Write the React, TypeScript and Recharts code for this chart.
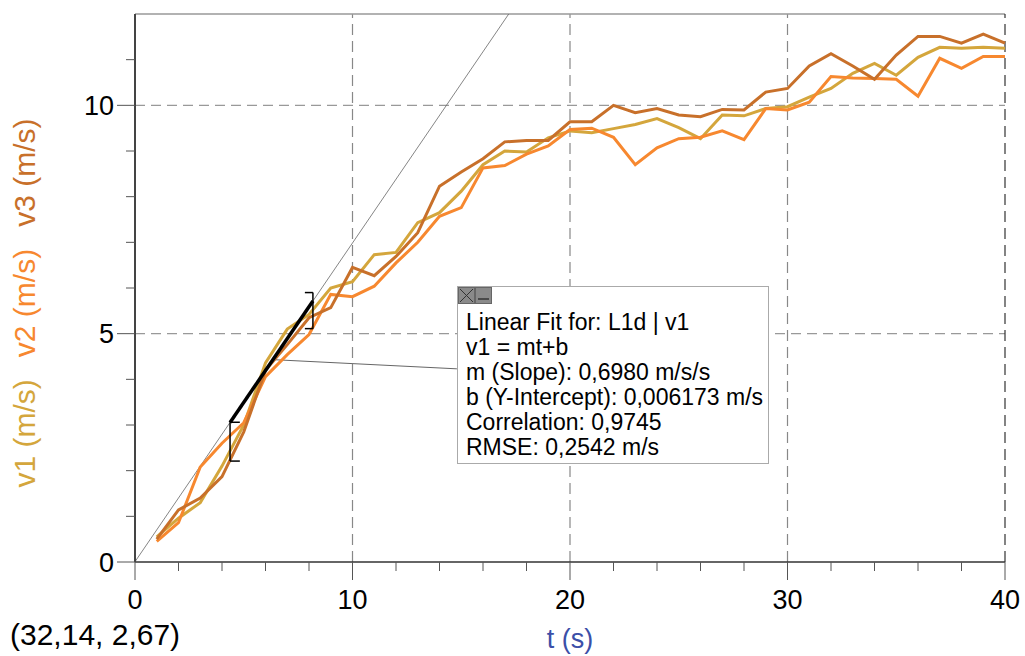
import { LineChart, Line, XAxis, YAxis, ReferenceLine, Label } from 'recharts';

const FONT = '"Liberation Sans", Arial, sans-serif';

// time in s
const times = [1, 2, 3, 4, 5, 6, 7, 8, 9, 10, 11, 12, 13, 14, 15, 16, 17, 18, 19, 20,
  21, 22, 23, 24, 25, 26, 27, 28, 29, 30, 31, 32, 33, 34, 35, 36, 37, 38, 39, 40];

const v1 = [0.55, 0.96, 1.3, 2.1, 3.0, 4.36, 5.1, 5.42, 6.0, 6.14, 6.73, 6.78, 7.43, 7.65, 8.12, 8.7, 9.0, 8.98, 9.29, 9.44,
  9.4, 9.49, 9.58, 9.71, 9.51, 9.27, 9.79, 9.77, 9.93, 9.97, 10.18, 10.37, 10.7, 10.92, 10.66, 11.05, 11.27, 11.25, 11.27, 11.25];
const v2 = [0.45, 0.86, 2.08, 2.6, 3.05, 4.06, 4.54, 4.98, 5.86, 5.81, 6.04, 6.55, 7.0, 7.57, 7.76, 8.63, 8.68, 8.93, 9.11, 9.47,
  9.5, 9.3, 8.7, 9.07, 9.27, 9.3, 9.44, 9.25, 9.93, 9.9, 10.07, 10.63, 10.6, 10.59, 10.57, 10.2, 11.03, 10.81, 11.07, 11.07];
const v3 = [0.5, 1.14, 1.4, 1.87, 2.85, 4.2, 4.76, 5.35, 5.57, 6.45, 6.27, 6.69, 7.21, 8.23, 8.54, 8.83, 9.2, 9.23, 9.23, 9.64,
  9.64, 10.0, 9.84, 9.93, 9.79, 9.75, 9.91, 9.9, 10.29, 10.37, 10.86, 11.13, 10.86, 10.57, 11.1, 11.51, 11.51, 11.36, 11.56, 11.36];

const xTicks = [0, 2, 4, 6, 8, 10, 12, 14, 16, 18, 20, 22, 24, 26, 28, 30, 32, 34, 36, 38, 40];
const yTicks = [0, 1, 2, 3, 4, 5, 6, 7, 8, 9, 10, 11];
const xGrid = [10, 20, 30];
const yGrid = [5, 10];

// linear fit results shown in the box
const fitM = 0.698;
const fitB = 0.006173;
const fitRange = [4.37, 8.18];
const leaderFrom = 6.34;
const leaderTo = { t: 14.8, v: 4.23 };
const bracketLow = [2.21, 5.11];
const bracketHigh = [3.06, 5.9];

const fitLines = [
  'Linear Fit for: L1d | v1',
  'v1 = mt+b',
  'm (Slope): 0,6980 m/s/s',
  'b (Y-Intercept): 0,006173 m/s',
  'Correlation: 0,9745',
  'RMSE: 0,2542 m/s',
];

const C1 = '#d4a63c';
const C2 = '#f7882f';
const C3 = '#c8702a';

const data = times.map((t, i) => ({ t, v1: v1[i], v2: v2[i], v3: v3[i] }));
const fit = (t: number) => fitM * t + fitB;

function XTick(props: any) {
  const { x, y, payload } = props;
  const major = payload.value % 10 === 0;
  return (
    <g>
      <line x1={x} x2={x} y1={y} y2={y + (major ? 18 : 9)} stroke="#555" strokeWidth={1} />
      {major && (
        <text x={x} y={y + 47} textAnchor="middle" fontSize={27} fontFamily={FONT} fill="#000">
          {payload.value}
        </text>
      )}
    </g>
  );
}

function YTick(props: any) {
  const { x, y, payload } = props;
  const major = payload.value % 5 === 0;
  return (
    <g>
      <line x1={x - (major ? 18 : 9)} x2={x} y1={y} y2={y} stroke="#555" strokeWidth={1} />
      {major && (
        <text x={x - 21} y={y + 9.5} textAnchor="end" fontSize={27} fontFamily={FONT} fill="#000">
          {payload.value}
        </text>
      )}
    </g>
  );
}

function YLabel() {
  const cx = 24;
  const cy = 303;
  return (
    <text
      x={cx}
      y={cy}
      transform={`rotate(-90, ${cx}, ${cy})`}
      textAnchor="middle"
      dominantBaseline="central"
      fontSize={30}
      fontFamily={FONT}
    >
      <tspan fill={C1}>v1 (m/s)</tspan>
      <tspan fill={C2} dx={22}>v2 (m/s)</tspan>
      <tspan fill={C3} dx={22}>v3 (m/s)</tspan>
    </text>
  );
}

export default function App() {
  const tTop = (12 - fitB) / fitM;
  return (
    <div style={{ position: 'absolute', left: 0, top: 0, width: 1025, height: 656, background: '#fff', fontFamily: FONT }}>
      <LineChart width={1025} height={656} data={data} margin={{ top: 14, right: 20, left: 0, bottom: 0 }}>
        {xGrid.map((g) => (
          <ReferenceLine key={'x' + g} x={g} stroke="#888" strokeWidth={1.2} strokeDasharray="11 6" />
        ))}
        {yGrid.map((g) => (
          <ReferenceLine key={'y' + g} y={g} stroke="#999" strokeWidth={1.2} strokeDasharray="10 6" />
        ))}
        <ReferenceLine y={12} stroke="#999" strokeWidth={1.5} />
        <ReferenceLine x={40} stroke="#333" strokeWidth={1.2} strokeDasharray="11 6" />
        <XAxis
          type="number"
          dataKey="t"
          domain={[0, 40]}
          ticks={xTicks}
          interval={0}
          height={94}
          tickSize={0}
          tickMargin={0}
          tickLine={false}
          tick={<XTick />}
          axisLine={{ stroke: '#333', strokeWidth: 1.5 }}
        >
          <Label
            value="t (s)"
            position="insideBottom"
            offset={8}
            style={{ fill: '#3b4fa8', fontSize: 27, fontFamily: FONT }}
          />
        </XAxis>
        <YAxis
          type="number"
          domain={[0, 12]}
          ticks={yTicks}
          interval={0}
          width={135}
          tickSize={0}
          tickMargin={0}
          tickLine={false}
          tick={<YTick />}
          axisLine={{ stroke: '#444', strokeWidth: 2 }}
          allowDataOverflow
        >
          <Label content={<YLabel />} />
        </YAxis>
        <ReferenceLine
          segment={[{ x: 0, y: fit(0) }, { x: tTop, y: 12 }]}
          stroke="#666"
          strokeWidth={0.8}
          ifOverflow="visible"
        />
        <ReferenceLine
          segment={[{ x: leaderFrom, y: fit(leaderFrom) }, { x: leaderTo.t, y: leaderTo.v }]}
          stroke="#666"
          strokeWidth={1}
          ifOverflow="visible"
        />
        <Line type="linear" dataKey="v1" stroke={C1} strokeWidth={3} dot={false} isAnimationActive={false} />
        <Line type="linear" dataKey="v2" stroke={C2} strokeWidth={3} dot={false} isAnimationActive={false} />
        <Line type="linear" dataKey="v3" stroke={C3} strokeWidth={3} dot={false} isAnimationActive={false} />
        <ReferenceLine
          segment={[{ x: fitRange[0], y: fit(fitRange[0]) }, { x: fitRange[1], y: fit(fitRange[1]) }]}
          stroke="#000"
          strokeWidth={3.5}
          ifOverflow="visible"
        />
        {/* selection brackets */}
        <ReferenceLine segment={[{ x: fitRange[0], y: bracketLow[0] }, { x: fitRange[0], y: bracketHigh[0] }]} stroke="#000" strokeWidth={1.5} ifOverflow="visible" />
        <ReferenceLine segment={[{ x: fitRange[0], y: bracketLow[0] }, { x: fitRange[0] + 0.45, y: bracketLow[0] }]} stroke="#000" strokeWidth={1.5} ifOverflow="visible" />
        <ReferenceLine segment={[{ x: fitRange[0], y: bracketHigh[0] }, { x: fitRange[0] + 0.45, y: bracketHigh[0] }]} stroke="#000" strokeWidth={1.5} ifOverflow="visible" />
        <ReferenceLine segment={[{ x: fitRange[1], y: bracketLow[1] }, { x: fitRange[1], y: bracketHigh[1] }]} stroke="#000" strokeWidth={1.5} ifOverflow="visible" />
        <ReferenceLine segment={[{ x: fitRange[1], y: bracketLow[1] }, { x: fitRange[1] - 0.37, y: bracketLow[1] }]} stroke="#000" strokeWidth={1.5} ifOverflow="visible" />
        <ReferenceLine segment={[{ x: fitRange[1], y: bracketHigh[1] }, { x: fitRange[1] - 0.37, y: bracketHigh[1] }]} stroke="#000" strokeWidth={1.5} ifOverflow="visible" />
      </LineChart>

      <div
        style={{
          position: 'absolute',
          left: 457,
          top: 286,
          width: 312,
          height: 178,
          background: '#fff',
          border: '1px solid #aaa',
          boxSizing: 'border-box',
        }}
      >
        <svg width={34} height={17} style={{ position: 'absolute', left: 0, top: 0 }}>
          <rect x={0.5} y={0.5} width={16} height={16} fill="#8a8a8a" stroke="#666" />
          <line x1={2} y1={2} x2={15} y2={15} stroke="#333" strokeWidth={1} />
          <line x1={15} y1={2} x2={2} y2={15} stroke="#333" strokeWidth={1} />
          <rect x={17.5} y={0.5} width={16} height={16} fill="#8a8a8a" stroke="#666" />
          <line x1={20} y1={12} x2={31} y2={12} stroke="#333" strokeWidth={1.5} />
        </svg>
        <div style={{ position: 'absolute', left: 8, top: 23, fontSize: 23, lineHeight: '25px', color: '#000', whiteSpace: 'nowrap' }}>
          {fitLines.map((s) => (
            <div key={s}>{s}</div>
          ))}
        </div>
      </div>

      <div style={{ position: 'absolute', left: 10, top: 618, fontSize: 30, lineHeight: '34px', color: '#000', whiteSpace: 'nowrap' }}>
        (32,14, 2,67)
      </div>
    </div>
  );
}
